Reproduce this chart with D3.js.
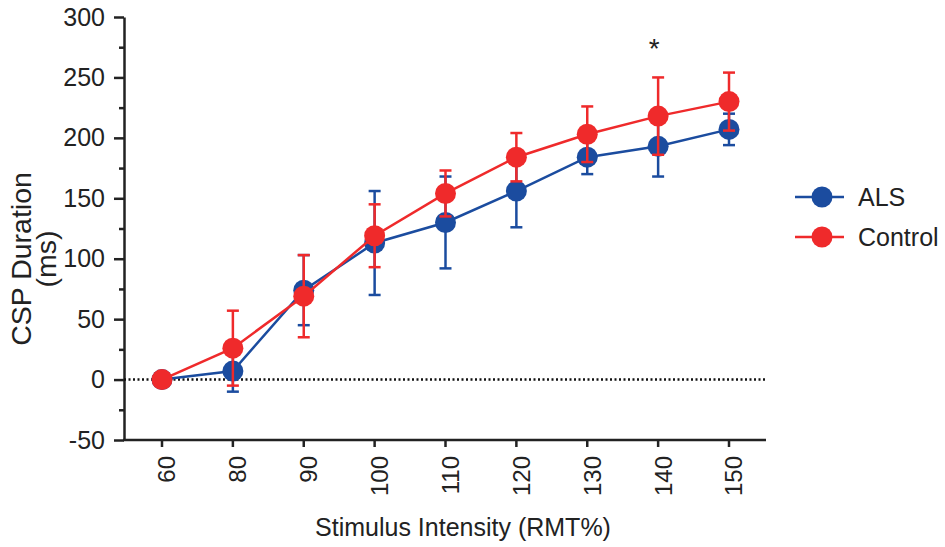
<!DOCTYPE html>
<html lang="en">
<head>
<meta charset="UTF-8">
<title>CSP Duration</title>
<script src="https://cdn.jsdelivr.net/npm/d3@7"></script>
<style>
  body { margin: 0; background: #fff; }
  svg text { font-family: "Liberation Sans", Arial, sans-serif; fill: #222; }
</style>
</head>
<body>
<svg id="chart" width="945" height="547"></svg>
<script>
// data
const intensities = ["60", "80", "90", "100", "110", "120", "130", "140", "150"]
const alsMean = [0, 7, 74, 113, 130, 156, 184, 193, 207]
const alsErr = [0, 17, 29, 43, 38, 30, 14, 25, 13]
const controlMean = [0, 26, 69, 119, 154, 184, 203, 218, 230]
const controlErr = [0, 31, 34, 26, 19, 20, 23, 32, 24]
const yTicks = [-50, 0, 50, 100, 150, 200, 250, 300]
const yMinorTicks = [-25, 25, 75, 125, 175, 225, 275]
const starAt = "140"

const series = [
  { name: "ALS", color: "#1b4c9f", mean: alsMean, err: alsErr },
  { name: "Control", color: "#ef2a2b", mean: controlMean, err: controlErr }
]

const svg = d3.select('#chart')

const x = d3.scalePoint()
  .domain(intensities)
  .range([162, 729])

const y = d3.scaleLinear()
  .domain([-50, 300])
  .range([440, 17])

const axisLeftX = 124
const axisRightX = 766

// y axis (plain hyphen for negatives, like the original)
const yAxis = svg.append('g')
  .attr('transform', `translate(${axisLeftX},0)`)
  .call(d3.axisLeft(y).tickValues(yTicks).tickFormat(d => String(d))
    .tickSize(10).tickSizeOuter(0).tickPadding(9))
yAxis.selectAll('text').style('font-size', '25px')
yAxis.selectAll('line, path').attr('stroke', '#222').attr('stroke-width', 2.5)

svg.append('g')
  .attr('transform', `translate(${axisLeftX},0)`)
  .call(d3.axisLeft(y).tickValues(yMinorTicks).tickSize(5).tickFormat(''))
  .call(g => g.select('.domain').remove())
  .selectAll('line').attr('stroke', '#222').attr('stroke-width', 2.5)

// x axis
const xAxis = svg.append('g')
  .attr('transform', `translate(0,${y(-50)})`)
xAxis.append('line')
  .attr('x1', axisLeftX - 1).attr('x2', axisRightX)
  .attr('stroke', '#222').attr('stroke-width', 2.5)
xAxis.selectAll('.tick')
  .data(intensities)
  .enter()
  .append('line')
  .attr('x1', d => x(d)).attr('x2', d => x(d))
  .attr('y1', 0).attr('y2', 7)
  .attr('stroke', '#222').attr('stroke-width', 2.5)
xAxis.selectAll('.xlab')
  .data(intensities)
  .enter()
  .append('text')
  .attr('transform', d => `translate(${x(d) + 5},16) rotate(-90)`)
  .attr('dy', '0.35em')
  .attr('text-anchor', 'end')
  .style('font-size', '24px')
  .text(d => d)

// zero reference line
svg.append('line')
  .attr('x1', axisLeftX).attr('x2', axisRightX)
  .attr('y1', y(0)).attr('y2', y(0))
  .attr('stroke', '#111').attr('stroke-width', 2.5)
  .attr('stroke-dasharray', '2,2.5')

// axis titles
svg.append('text')
  .attr('x', 463).attr('y', 536)
  .attr('text-anchor', 'middle')
  .style('font-size', '25px')
  .text('Stimulus Intensity (RMT%)')

svg.append('text')
  .attr('transform', 'translate(31,259) rotate(-90)')
  .attr('text-anchor', 'middle')
  .style('font-size', '28.5px')
  .text('CSP Duration')
svg.append('text')
  .attr('transform', 'translate(56,259) rotate(-90)')
  .attr('text-anchor', 'middle')
  .style('font-size', '28.5px')
  .text('(ms)')

// series
const line = d3.line()
  .x((d, i) => x(intensities[i]))
  .y(d => y(d))

series.forEach(s => {
  const g = svg.append('g')
  g.append('path')
    .datum(s.mean)
    .attr('d', line)
    .attr('fill', 'none')
    .attr('stroke', s.color)
    .attr('stroke-width', 2.5)

  const bars = g.selectAll('.err')
    .data(intensities.filter((d, i) => s.err[i] > 0))
    .enter()
    .append('g')
  bars.each(function (d) {
    const i = intensities.indexOf(d)
    const b = d3.select(this)
    const lo = y(s.mean[i] - s.err[i])
    const hi = y(s.mean[i] + s.err[i])
    b.append('line')
      .attr('x1', x(d)).attr('x2', x(d)).attr('y1', lo).attr('y2', hi)
    b.append('line')
      .attr('x1', x(d) - 6).attr('x2', x(d) + 6).attr('y1', lo).attr('y2', lo)
    b.append('line')
      .attr('x1', x(d) - 6).attr('x2', x(d) + 6).attr('y1', hi).attr('y2', hi)
    b.selectAll('line').attr('stroke', s.color).attr('stroke-width', 2.5)
  })

  g.selectAll('circle')
    .data(s.mean)
    .enter()
    .append('circle')
    .attr('cx', (d, i) => x(intensities[i]))
    .attr('cy', d => y(d))
    .attr('r', 10.5)
    .attr('fill', s.color)
})

// significance marker
svg.append('text')
  .attr('x', x(starAt) - 4).attr('y', 58)
  .attr('text-anchor', 'middle')
  .style('font-size', '28px')
  .text('*')

// legend
const legend = svg.append('g')
  .selectAll('g')
  .data(series)
  .enter()
  .append('g')
  .attr('transform', (d, i) => `translate(822,${197 + i * 40})`)
legend.append('line')
  .attr('x1', -27).attr('x2', 22)
  .attr('stroke', d => d.color).attr('stroke-width', 2.5)
legend.append('circle')
  .attr('r', 10.5)
  .attr('fill', d => d.color)
legend.append('text')
  .attr('x', 36).attr('dy', '0.35em')
  .style('font-size', '25px')
  .text(d => d.name)
</script>
</body>
</html>
